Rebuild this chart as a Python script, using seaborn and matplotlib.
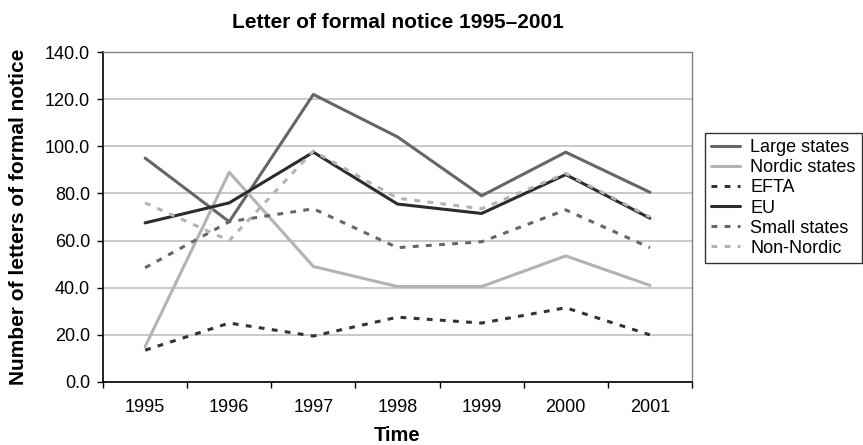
import matplotlib
matplotlib.use("Agg")
import matplotlib.pyplot as plt
import seaborn as sns
import pandas as pd
from matplotlib.ticker import FixedLocator, FormatStrFormatter

years = ["1995", "1996", "1997", "1998", "1999", "2000", "2001"]
large_states = [95.0, 68.0, 122.0, 104.0, 79.0, 97.5, 80.5]
nordic_states = [15.0, 89.0, 49.0, 40.5, 40.5, 53.5, 41.0]
efta = [13.5, 25.0, 19.5, 27.5, 25.0, 31.5, 20.0]
eu = [67.5, 76.0, 97.5, 75.5, 71.5, 88.0, 69.5]
small_states = [48.5, 68.0, 73.5, 57.0, 59.5, 73.0, 57.0]
non_nordic = [76.0, 60.0, 98.0, 78.0, 73.5, 88.5, 70.0]

series = {
    "Large states": large_states,
    "Nordic states": nordic_states,
    "EFTA": efta,
    "EU": eu,
    "Small states": small_states,
    "Non-Nordic": non_nordic,
}
dash = (0, (1.9, 2.4))
styles = {
    "Large states": dict(color="#666666", ls="-"),
    "Nordic states": dict(color="#b3b3b3", ls="-"),
    "EFTA": dict(color="#333333", ls=dash),
    "EU": dict(color="#2c2c2c", ls="-"),
    "Small states": dict(color="#666666", ls=dash),
    "Non-Nordic": dict(color="#b3b3b3", ls=dash),
}

rows = []
for name, vals in series.items():
    for i, v in enumerate(vals):
        rows.append({"pos": i, "year": years[i], "series": name, "value": v})
df = pd.DataFrame(rows)

sns.set_theme(style="white")
plt.rcParams["font.family"] = ["Liberation Sans", "DejaVu Sans"]
plt.rcParams["text.color"] = "black"
plt.rcParams["axes.labelcolor"] = "black"
plt.rcParams["axes.titlecolor"] = "black"

fig = plt.figure(figsize=(8.63, 4.45), dpi=100)
ax = fig.add_axes([0.1194, 0.1416, 0.6824, 0.7415])

for name in series:
    st = styles[name]
    sub = df[df["series"] == name]
    sns.lineplot(data=sub, x="pos", y="value", ax=ax, color=st["color"],
                 linestyle=st["ls"], linewidth=2.2, label=name, sort=False)

ax.set_xlim(-0.5, len(years) - 0.5)
ax.set_ylim(0, 140)
ax.yaxis.set_major_locator(FixedLocator(range(0, 141, 20)))
ax.yaxis.set_major_formatter(FormatStrFormatter("%.1f"))
ax.set_xticks(range(len(years)))
ax.set_xticklabels(years)
ax.set_xticks([i - 0.5 for i in range(len(years) + 1)], minor=True)
ax.tick_params(axis="x", which="major", length=0, pad=12.5, labelsize=13, colors="black")
ax.tick_params(axis="x", which="minor", length=4.3, width=1, color="black", direction="out", bottom=True)
ax.tick_params(axis="y", which="major", length=4.3, width=1, color="black", direction="out",
               left=True, labelsize=13, pad=5)
for lab in ax.get_yticklabels() + ax.get_xticklabels():
    lab.set_color("black")

ax.grid(axis="y", color="#c0c0c0", linewidth=1.2)
ax.set_axisbelow(True)
for side in ["top", "right"]:
    ax.spines[side].set_color("#808080")
    ax.spines[side].set_linewidth(1.0)
for side in ["left", "bottom"]:
    ax.spines[side].set_color("black")
    ax.spines[side].set_linewidth(1.2)

ax.set_title("Letter of formal notice 1995\u20132001", fontsize=15, fontweight="bold", pad=17,
             color="black")
ax.set_xlabel("Time", fontsize=14.5, fontweight="bold", labelpad=7, color="black")
ax.set_ylabel("Number of letters of formal notice", fontsize=15, fontweight="bold", labelpad=12,
              color="black")

leg = ax.legend(loc="upper left", bbox_to_anchor=(1.022, 0.7545), frameon=True, fancybox=False,
                edgecolor="black", fontsize=13, handlelength=1.6, handletextpad=0.55,
                labelspacing=0.17, borderpad=0.35, borderaxespad=0)
leg.get_frame().set_linewidth(1.0)
for t in leg.get_texts():
    t.set_color("black")

fig.savefig("out.png", dpi=100)
